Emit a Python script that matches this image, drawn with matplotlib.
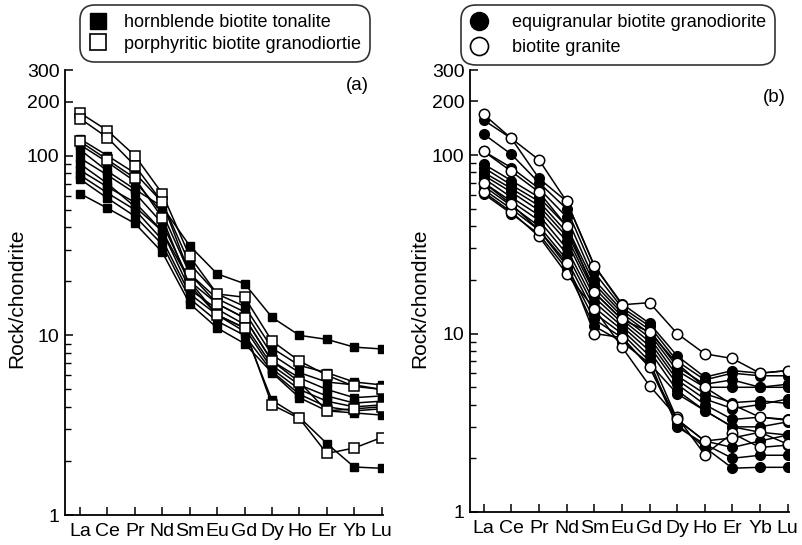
import matplotlib
matplotlib.use("Agg")
import matplotlib.pyplot as plt
import numpy as np
from matplotlib.lines import Line2D
from matplotlib.ticker import FixedLocator, NullFormatter

plt.rcParams['font.family'] = ['Liberation Sans', 'DejaVu Sans']

elements = ['La', 'Ce', 'Pr', 'Nd', 'Sm', 'Eu', 'Gd', 'Dy', 'Ho', 'Er', 'Yb', 'Lu']

# (a) hornblende biotite tonalite (filled squares)
tonalite = [
    [108, 82, 65, 52, 31.5, 22, 19.4, 12.6, 10, 9.5, 8.6, 8.4],
    [90, 70, 52, 38, 20, 13, 10.5, 4.35, 3.5, 2.5, 1.85, 1.82],
    [124, 100, 80, 55, 25, 17, 14.5, 8.5, 6.8, 6.2, 5.5, 5.3],
    [115, 92, 72, 48, 22, 16, 13.5, 7.8, 6.2, 5.5, 5.3, 5.0],
    [97, 78, 62, 42, 20, 15, 12.5, 7.2, 5.8, 5.0, 4.5, 4.6],
    [83, 67, 55, 38, 18, 14, 11.5, 6.8, 5.3, 4.6, 4.2, 4.3],
    [78, 62, 50, 34, 17, 13, 11, 6.5, 5.0, 4.3, 4.0, 4.1],
    [74, 58, 46, 32, 16, 12, 10, 6.3, 4.7, 4.0, 3.8, 3.9],
    [61.5, 51, 42, 29, 15, 11, 9, 6.2, 4.5, 3.8, 3.7, 3.6],
]
# (a) porphyritic biotite granodiorite (open squares)
porphyritic = [
    [173, 138, 100, 61.5, 27.5, 17, 16.3, 9.3, 7.2, 6.0, 5.2, 5.0],
    [161, 126, 88, 55, 22, 15, 12.5, 7.2, 5.5, 3.8, 3.9, 4.0],
    [120, 95, 75, 45, 19, 13, 11, 4.1, 3.45, 2.2, 2.36, 2.7],
]
# (b) equigranular biotite granodiorite (filled circles)
equigranular = [
    [157, 124, 74, 55, 24, 14.7, 11.4, 7.5, 5.7, 6.2, 6.0, 6.2],
    [131, 101, 70, 50, 22, 14, 11, 7.0, 5.5, 6.0, 5.8, 5.8],
    [105, 85, 65, 45, 20, 13.5, 10.5, 6.5, 5.2, 5.5, 5.0, 5.0],
    [89, 72, 58, 40, 19, 13, 10, 6.2, 5.0, 5.0, 5.0, 5.2],
    [85, 68, 55, 37, 18, 12.5, 9.5, 5.8, 4.6, 4.1, 4.2, 4.06],
    [80, 65, 52, 35, 17, 12, 9, 5.5, 4.3, 3.8, 4.0, 4.3],
    [77, 62, 49, 33, 16, 11.5, 8.5, 5.2, 4.0, 3.3, 3.4, 3.3],
    [74, 58, 46, 30, 15, 11, 8, 4.8, 3.7, 3.0, 2.8, 2.7],
    [70, 55, 43, 28, 14, 10.5, 7.5, 3.3, 2.5, 2.3, 2.5, 2.7],
    [67, 52, 40, 26, 13, 10, 7, 3.0, 2.4, 2.0, 2.08, 2.08],
    [64, 50, 38, 24, 12, 9.5, 6.5, 3.1, 2.3, 1.76, 1.78, 1.78],
    [60.6, 47, 36, 23, 11, 9.0, 6.8, 4.6, 3.7, 3.0, 3.0, 3.2],
]
# (b) biotite granite (open circles)
granite = [
    [169, 124, 94, 55, 24, 14.5, 14.9, 10, 7.7, 7.25, 6.0, 6.2],
    [105, 81, 62, 40, 17, 12, 10.2, 6.8, 5.0, 4.0, 3.4, 3.27],
    [62, 48, 35, 21.6, 13.8, 8.4, 5.1, 3.4, 2.1, 2.76, 2.3, 2.37],
    [70, 53, 38, 25, 10, 9.5, 6.5, 3.3, 2.5, 2.6, 2.8, 2.4],
]

fig = plt.figure(figsize=(8.02, 5.45), dpi=100)
W, H = 802, 545
ax_a = fig.add_axes([65 / W, 1 - 515 / H, (383 - 65) / W, (515 - 70) / H])
ax_b = fig.add_axes([470 / W, 1 - 512 / H, (789 - 470) / W, (512 - 70) / H])

x = np.arange(len(elements))


def draw(ax, filled, opened, marker, ms_f, ms_o):
    for row in filled:
        ax.plot(x, row, color='black', lw=1.1, marker=marker, ms=ms_f,
                mfc='black', mec='black', zorder=2)
    for row in opened:
        ax.plot(x, row, color='black', lw=1.1, marker=marker, ms=ms_o,
                mfc='white', mec='black', mew=1.1, zorder=3)


draw(ax_a, tonalite, porphyritic, 's', 6.3, 7.5)
draw(ax_b, equigranular, granite, 'o', 7, 7.5)

for ax, xl in ((ax_a, -0.55), (ax_b, -0.5)):
    ax.set_yscale('log')
    ax.set_ylim(1, 300)
    ax.set_xlim(xl, 11.05)
    ax.spines['top'].set_visible(False)
    ax.spines['right'].set_visible(False)
    ax.spines['left'].set_linewidth(1.3)
    ax.spines['bottom'].set_linewidth(1.3)
    ax.set_xticks(x)
    ax.set_xticklabels(elements, fontsize=14)
    ax.yaxis.set_major_locator(FixedLocator([1, 10, 100, 200, 300]))
    ax.set_yticklabels(['1', '10', '100', '200', '300'], fontsize=14)
    minors = [m * 10 ** k for k in range(0, 2) for m in range(2, 10)]
    ax.yaxis.set_minor_locator(FixedLocator(minors))
    ax.yaxis.set_minor_formatter(NullFormatter())
    ax.tick_params(axis='both', which='major', direction='in', length=6, width=1.1, pad=4)
    ax.tick_params(axis='y', which='minor', direction='in', length=4, width=1.0)
    ax.tick_params(axis='x', pad=6)

fig.text(17 / W, 1 - 298 / H, 'Rock/chondrite', fontsize=15, rotation=90,
         va='center', ha='center')
fig.text(420 / W, 1 - 298 / H, 'Rock/chondrite', fontsize=15, rotation=90,
         va='center', ha='center')
fig.text(357 / W, 1 - 86 / H, '(a)', fontsize=13.5, va='center', ha='center')
fig.text(774 / W, 1 - 98 / H, '(b)', fontsize=13.5, va='center', ha='center')

h_a = [Line2D([], [], ls='none', marker='s', ms=11, mfc='black', mec='black'),
       Line2D([], [], ls='none', marker='s', ms=11, mfc='white', mec='black', mew=1.2)]
leg_a = fig.legend(h_a, ['hornblende biotite tonalite', 'porphyritic biotite granodiortie'],
                   loc='upper left', bbox_to_anchor=(82 / W, 1 - 7 / H), fontsize=13,
                   frameon=True, fancybox=True, edgecolor='black', handlelength=1.0,
                   handletextpad=0.9, borderpad=0.4, labelspacing=0.25, borderaxespad=0)
leg_a.get_frame().set_linewidth(1.2)
leg_a.get_frame().set_boxstyle('round,pad=0.1,rounding_size=0.8')

h_b = [Line2D([], [], ls='none', marker='o', ms=13, mfc='black', mec='black'),
       Line2D([], [], ls='none', marker='o', ms=13, mfc='white', mec='black', mew=1.2)]
leg_b = fig.legend(h_b, ['equigranular biotite granodiorite', 'biotite granite'],
                   loc='upper left', bbox_to_anchor=(463 / W, 1 - 7 / H), fontsize=13,
                   frameon=True, fancybox=True, edgecolor='black', handlelength=1.0,
                   handletextpad=1.3, borderpad=0.4, labelspacing=0.45, borderaxespad=0)
leg_b.get_frame().set_linewidth(1.2)
leg_b.get_frame().set_boxstyle('round,pad=0.1,rounding_size=0.8')

fig.savefig('out.png', dpi=100, facecolor='white')
